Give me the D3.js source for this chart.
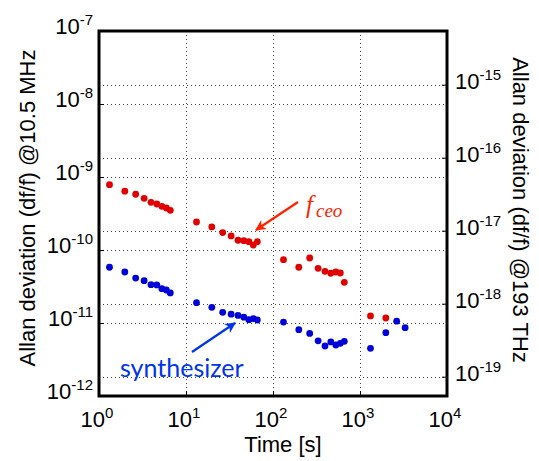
<!DOCTYPE html>
<html>
<head>
<meta charset="utf-8">
<script src="https://cdn.jsdelivr.net/npm/d3@7"></script>
<style>
  html, body { margin: 0; padding: 0; background: #fff; overflow: hidden; }
  svg { display: block; }
  text { font-family: "Liberation Sans", Arial, sans-serif; }
</style>
</head>
<body>
<svg id="chart"></svg>
<script>
// averaging times (s), four runs with different gate times
const tauRun1 = [1.32, 1.98, 2.64, 3.3, 3.96, 4.62, 5.28, 5.94, 6.6];
const tauRun2 = [13.2, 19.8, 26.4, 33, 39.6, 46.2, 52.8, 59.4, 66];
const tauRun3 = [132, 198, 264, 330, 396, 462, 528, 594, 660];
const tauRun4 = [1320, 1980, 2640, 3300];

// fceo Allan deviation (df/f @10.5 MHz)
const ceoRun1 = [7.85e-10, 6.4e-10, 5.8e-10, 5.1e-10, 4.5e-10, 4.27e-10, 3.97e-10, 3.76e-10, 3.5e-10];
const ceoRun2 = [2.42e-10, 2.07e-10, 1.73e-10, 1.56e-10, 1.36e-10, 1.34e-10, 1.3e-10, 1.17e-10, 1.3e-10];
const ceoRun3 = [7.36e-11, 5.8e-11, 7.77e-11, 5.61e-11, 5.11e-11, 4.8e-11, 5.0e-11, 4.84e-11, 3.61e-11];
const ceoRun4 = [1.25e-11, 1.17e-11];

// synthesizer Allan deviation
const synRun1 = [5.8e-11, 5.0e-11, 4.13e-11, 3.8e-11, 3.35e-11, 3.32e-11, 2.95e-11, 2.83e-11, 2.58e-11];
const synRun2 = [1.9e-11, 1.64e-11, 1.4e-11, 1.32e-11, 1.27e-11, 1.2e-11, 1.11e-11, 1.15e-11, 1.1e-11];
const synRun3 = [1.03e-11, 8.1e-12, 7.2e-12, 5.7e-12, 4.84e-12, 5.5e-12, 5.0e-12, 5.27e-12, 5.61e-12];
const synRun4 = [4.5e-12, 7.36e-12, 1.06e-11, 8.63e-12];

const xTicks = [1, 10, 100, 1000, 10000];
const xTickExp = ["0", "1", "2", "3", "4"];
const yLeftTicks = [1e-12, 1e-11, 1e-10, 1e-9, 1e-8, 1e-7];
const yLeftExp = ["-12", "-11", "-10", "-9", "-8", "-7"];
const yRightTicks = [1e-19, 1e-18, 1e-17, 1e-16, 1e-15];
const yRightExp = ["-19", "-18", "-17", "-16", "-15"];
const ratio = 10.5e6 / 193e12;

const width = 539, height = 461;
const margin = {top: 31, right: 92, bottom: 65, left: 99};
const innerWidth = width - margin.left - margin.right;
const innerHeight = height - margin.top - margin.bottom;

const svg = d3.select("#chart").attr("width", width).attr("height", height);
const g = svg.append("g").attr("transform", `translate(${margin.left},${margin.top})`);

const x = d3.scaleLog().domain([1, 10000]).range([0, innerWidth]);
const yL = d3.scaleLog().domain([1e-12, 1e-7]).range([innerHeight, 0]);
const yR = d3.scaleLog().domain([1e-12 * ratio, 1e-7 * ratio]).range([innerHeight, 0]);

// dotted grid
const grid = g.append("g").attr("stroke", "#444").attr("stroke-width", 1).attr("stroke-dasharray", "1,3");
grid.selectAll(".gx").data(xTicks.slice(1, -1)).join("line")
  .attr("x1", d => Math.round(x(d)) + 0.5).attr("x2", d => Math.round(x(d)) + 0.5)
  .attr("y1", 0).attr("y2", innerHeight);
grid.selectAll(".gl").data(yLeftTicks.slice(1, -1)).join("line")
  .attr("x1", 0).attr("x2", innerWidth)
  .attr("y1", d => Math.round(yL(d)) + 0.5).attr("y2", d => Math.round(yL(d)) + 0.5);
grid.selectAll(".gr").data(yRightTicks).join("line")
  .attr("x1", 0).attr("x2", innerWidth)
  .attr("y1", d => Math.round(yR(d)) + 0.5).attr("y2", d => Math.round(yR(d)) + 0.5);

// axes with inward ticks (labels drawn separately)
const xAxis = d3.axisBottom(x).tickValues(xTicks).tickSize(-5);
const yAxisL = d3.axisLeft(yL).tickValues(yLeftTicks).tickSize(-5);
const yAxisR = d3.axisRight(yR).tickValues(yRightTicks).tickSize(-5);
const clean = s => { s.select(".domain").remove(); s.selectAll(".tick text").remove(); };
g.append("g").attr("transform", `translate(0,${innerHeight})`).call(xAxis).call(clean);
g.append("g").call(yAxisL).call(clean);
g.append("g").attr("transform", `translate(${innerWidth},0)`).call(yAxisR).call(clean);

// tick labels 10^n : base and exponent as separate texts
// align: "end" (left axis), "middle" (bottom), "start" (right axis)
function powLabels(parent, ticks, exps, px, py, align) {
  ticks.forEach((d, i) => {
    const lx = px(d), ly = py(d);
    const base = parent.append("text").attr("y", ly).style("font-size", "22px").text("10");
    const ex = parent.append("text").attr("y", ly - 9).style("font-size", "15px").text(exps[i]);
    const bw = base.node().getComputedTextLength();
    const ew = ex.node().getComputedTextLength();
    const x0 = align === "end" ? lx - bw - ew : align === "middle" ? lx - (bw + ew) / 2 : lx;
    base.attr("x", x0);
    ex.attr("x", x0 + bw);
  });
}
powLabels(g.append("g"), xTicks, xTickExp, d => x(d) - 2, () => innerHeight + 31, "middle");
powLabels(g.append("g"), yLeftTicks, yLeftExp, () => -6, d => yL(d) + 3, "end");
powLabels(g.append("g"), yRightTicks, yRightExp, () => innerWidth + 8, d => yR(d) + 4, "start");

// frame
g.append("rect").attr("width", innerWidth).attr("height", innerHeight)
  .attr("fill", "none").attr("stroke", "#000").attr("stroke-width", 3);

// data
const runs = [
  [tauRun1, ceoRun1, synRun1], [tauRun2, ceoRun2, synRun2],
  [tauRun3, ceoRun3, synRun3], [tauRun4, ceoRun4, synRun4]
];
const ceoPts = [], synPts = [];
runs.forEach(([t, c, s]) => {
  c.forEach((v, i) => ceoPts.push([t[i], v]));
  s.forEach((v, i) => synPts.push([t[i], v]));
});
g.append("g").selectAll("circle").data(ceoPts).join("circle")
  .attr("cx", d => x(d[0])).attr("cy", d => yL(d[1])).attr("r", 3.4).attr("fill", "#e00000");
g.append("g").selectAll("circle").data(synPts).join("circle")
  .attr("cx", d => x(d[0])).attr("cy", d => yL(d[1])).attr("r", 3.4).attr("fill", "#0000d8");

// annotations
const defs = svg.append("defs");
function marker(id, color) {
  defs.append("marker").attr("id", id).attr("viewBox", "0 0 10 10")
    .attr("refX", 9).attr("refY", 5).attr("markerWidth", 5).attr("markerHeight", 5)
    .attr("orient", "auto")
    .append("path").attr("d", "M0,0 L10,5 L0,10 L3,5 Z").attr("fill", color);
}
marker("arrRed", "#ff2200");
marker("arrBlue", "#0033ee");

svg.append("line").attr("x1", 298).attr("y1", 202).attr("x2", 256).attr("y2", 230)
  .attr("stroke", "#ff2200").attr("stroke-width", 2.2).attr("marker-end", "url(#arrRed)");
const serif = "'Liberation Serif', 'Times New Roman', serif";
svg.append("text").attr("x", 306).attr("y", 213)
  .style("font-family", serif).style("font-style", "italic").style("font-size", "25px")
  .attr("fill", "#ff2200").text("f");
svg.append("text").attr("x", 316).attr("y", 217)
  .style("font-family", serif).style("font-style", "italic").style("font-size", "19px")
  .attr("fill", "#ff2200").text("ceo");

svg.append("line").attr("x1", 192).attr("y1", 352).attr("x2", 235).attr("y2", 323)
  .attr("stroke", "#0033ee").attr("stroke-width", 2.2).attr("marker-end", "url(#arrBlue)");
svg.append("text").attr("x", 120).attr("y", 377)
  .style("font-family", "Lato, 'Open Sans', sans-serif").style("font-size", "25px")
  .attr("fill", "#0033ee").text("synthesizer");

// axis titles
svg.append("text").attr("x", 283).attr("y", 452).attr("text-anchor", "middle")
  .style("font-size", "22px").text("Time [s]");
svg.append("text").attr("transform", "translate(35,208) rotate(-90)").attr("text-anchor", "middle")
  .style("font-size", "22px").text("Allan deviation (df/f) @10.5 MHz");
svg.append("text").attr("transform", "translate(513,210) rotate(90)").attr("text-anchor", "middle")
  .style("font-size", "22px").text("Allan deviation (df/f) @193 THz");
</script>
</body>
</html>
